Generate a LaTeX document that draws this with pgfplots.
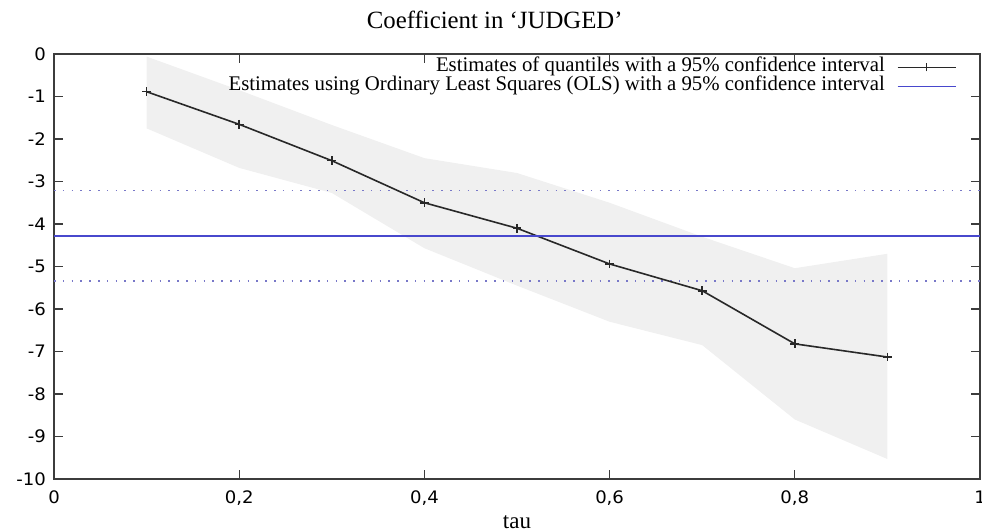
\documentclass[border=0pt]{standalone}
\usepackage{fontspec}
\setmainfont{Liberation Serif}
\newfontfamily\tickfont[FakeStretch=1.05]{DejaVu Sans}
\usepackage{pgfplots}
\pgfplotsset{compat=1.18}
\usetikzlibrary{calc}

\definecolor{bandgray}{RGB}{240,240,240}
\definecolor{olsblue}{RGB}{72,72,205}
\definecolor{dotblue}{RGB}{120,120,200}
\definecolor{linegray}{RGB}{40,40,40}
\definecolor{axisgray}{RGB}{60,60,60}

\begin{document}
\begin{tikzpicture}
\begin{axis}[
  name=ax,
  scale only axis, width=463pt, height=212.5pt,
  xmin=0, xmax=1, ymin=-10, ymax=0,
  xtick={0,0.2,0.4,0.6,0.8,1}, ytick={-10,-9,...,0},
  /pgf/number format/assume math mode=true,
  /pgf/number format/use comma,
  xticklabel style={font=\tickfont\fontsize{8.6}{9}\selectfont, yshift=-2.5pt},
  yticklabel style={font=\tickfont\fontsize{8.6}{9}\selectfont, xshift=-0.5pt},
  tick align=inside, major tick length=4.5pt,
  tick style={axisgray, line width=0.6pt},
  axis line style={axisgray, line width=0.7pt},
  title={Coefficient in ‘JUDGED’},
  title style={font=\fontsize{12.4}{14}\selectfont, at={(0.476,1)}, anchor=base, yshift=7pt},
  xlabel={tau},
  xlabel style={font=\fontsize{11.5}{13}\selectfont, yshift=2pt},
  legend style={draw=none, fill=none, at={(0.975,0.988)}, anchor=north east,
    font=\fontsize{10.4}{10.4}\selectfont, row sep=1.5pt, inner sep=0pt,
    nodes={text height=5.8pt, text depth=2.2pt, inner sep=0pt, outer sep=0pt},
    column sep=6pt},
  legend cell align=right, legend plot pos=right,
]
% confidence band of the quantile estimates (upper, then lower reversed)
\addplot[fill=bandgray, draw=none, forget plot] coordinates {
  (0.1,-0.06) (0.2,-0.85) (0.3,-1.67) (0.4,-2.45) (0.5,-2.80) (0.6,-3.50) (0.7,-4.30) (0.8,-5.04) (0.9,-4.70)
  (0.9,-9.53) (0.8,-8.60) (0.7,-6.85) (0.6,-6.30) (0.5,-5.45) (0.4,-4.57) (0.3,-3.27) (0.2,-2.68) (0.1,-1.75)
  (0.1,-0.06)
};
% OLS confidence interval
\addplot[color=dotblue, line width=0.8pt, dash pattern=on 0.8pt off 3.6pt, forget plot] coordinates {(0,-3.21) (1,-3.21)};
\addplot[color=dotblue, line width=0.8pt, dash pattern=on 0.8pt off 3.6pt, forget plot] coordinates {(0,-5.34) (1,-5.34)};
% quantile estimates
\addplot[color=linegray, solid, line width=0.8pt, mark=+, mark size=2.2pt, mark options={solid, line width=0.8pt},
  legend image code/.code={\draw[linegray, line width=0.7pt] (0cm,0cm) -- (1.02cm,0cm);
    \draw[linegray, line width=0.7pt] (0.51cm,-2pt) -- (0.51cm,2pt);}] coordinates {
  (0.1,-0.887) (0.2,-1.655) (0.3,-2.51) (0.4,-3.50) (0.5,-4.10) (0.6,-4.94) (0.7,-5.57) (0.8,-6.82) (0.9,-7.13)
};
\addlegendentry{Estimates of quantiles with a 95\% confidence interval}
% OLS estimate
\addplot[color=olsblue, solid, line width=0.8pt, mark=none,
  legend image code/.code={\draw[olsblue, line width=0.8pt] (0cm,0cm) -- (1.02cm,0cm);}] coordinates {(0,-4.28) (1,-4.28)};
\addlegendentry{Estimates using Ordinary Least Squares (OLS) with a 95\% confidence interval}
\end{axis}
\pgfresetboundingbox
\path ($(ax.south west)+(-27pt,-26pt)$) rectangle ($(ax.north east)+(1pt,27pt)$);
\end{tikzpicture}
\end{document}
